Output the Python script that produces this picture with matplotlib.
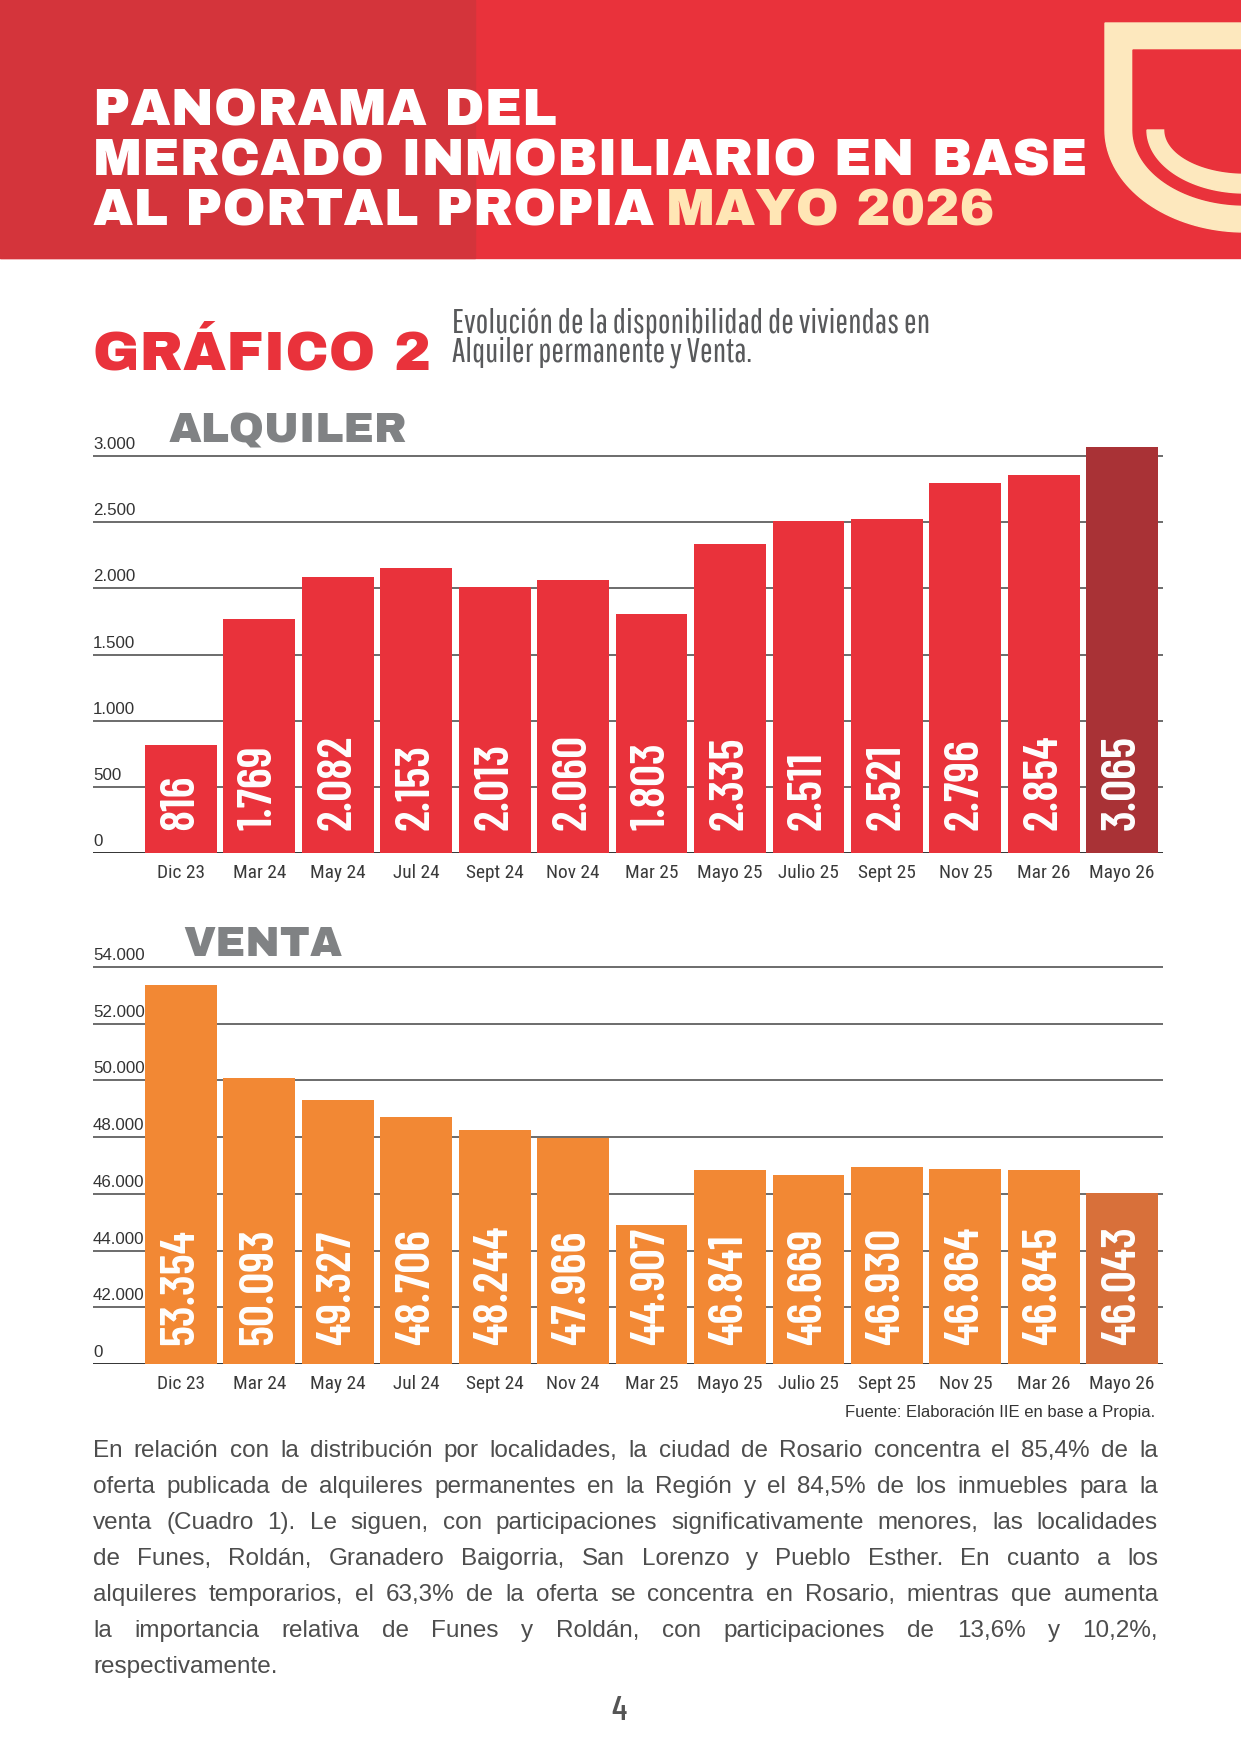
import matplotlib
matplotlib.use('Agg')
import matplotlib.pyplot as plt
from matplotlib.patches import Polygon, Rectangle
from matplotlib.transforms import offset_copy, blended_transform_factory
import numpy as np

# datos
fechas = ['Dic 23', 'Mar 24', 'May 24', 'Jul 24', 'Sept 24', 'Nov 24', 'Mar 25',
          'Mayo 25', 'Julio 25', 'Sept 25', 'Nov 25', 'Mar 26', 'Mayo 26']
alquiler = [816, 1769, 2082, 2153, 2013, 2060, 1803, 2335, 2511, 2521, 2796, 2854, 3065]
venta = [53354, 50093, 49327, 48706, 48244, 47966, 44907, 46841, 46669, 46930, 46864, 46845, 46043]

ticks_alq = [0, 500, 1000, 1500, 2000, 2500, 3000]
labels_alq = ['0', '500', '1.000', '1.500', '2.000', '2.500', '3.000']
ticks_ven = [40000, 42000, 44000, 46000, 48000, 50000, 52000, 54000]
labels_ven = ['0', '42.000', '44.000', '46.000', '48.000', '50.000', '52.000', '54.000']

parrafo = [
    "En relación con la distribución por localidades, la ciudad de Rosario concentra el 85,4% de la",
    "oferta publicada de alquileres permanentes en la Región y el 84,5% de los inmuebles para la",
    "venta (Cuadro 1). Le siguen, con participaciones significativamente menores, las localidades",
    "de Funes, Roldán, Granadero Baigorria, San Lorenzo y Pueblo Esther. En cuanto a los",
    "alquileres temporarios, el 63,3% de la oferta se concentra en Rosario, mientras que aumenta",
    "la importancia relativa de Funes y Roldán, con participaciones de 13,6% y 10,2%,",
    "respectivamente.",
]

ROJO = '#E9323B'
ROJO_OSC = '#D4343B'
CREMA = '#FDE8BE'
GRIS = '#808284'
NEGRA = ['Archivo Black', 'DejaVu Sans']
NUM = ['Barlow Condensed', 'Roboto Condensed', 'DejaVu Sans']
COND = ['Roboto Condensed', 'DejaVu Sans']
FINA = ['Pathway Gothic One', 'Barlow Condensed', 'Roboto Condensed', 'DejaVu Sans']
SANS = ['Liberation Sans', 'DejaVu Sans']

W, H = 1241, 1754
fig = plt.figure(figsize=(W / 100, H / 100), dpi=100)
bg = fig.add_axes([0, 0, 1, 1])
bg.set_xlim(0, W)
bg.set_ylim(H, 0)
bg.axis('off')
renderer = fig.canvas.get_renderer()


def ancho(t):
    return t.get_window_extent(renderer).width


def tam_para(s, w, size0=30, **kw):
    # tamaño de letra para que s ocupe w pixeles
    t = bg.text(0, -500, s, fontsize=size0, **kw)
    fs = size0 * w / ancho(t)
    t.remove()
    return fs


def texto_ajustado(x, y, s, w, **kw):
    return bg.text(x, y, s, fontsize=tam_para(s, w, **kw), **kw)


# cabecera
bg.add_patch(Rectangle((0, 0), W, 258, color=ROJO, zorder=0))
bg.add_patch(Rectangle((0, 0), 475, 258, color=ROJO_OSC, zorder=0))

tit = dict(color='white', fontweight='bold', family=NEGRA, va='baseline')
fs_tit = tam_para('MERCADO INMOBILIARIO EN BASE', 993, **tit)
bg.text(93, 125, 'PANORAMA DEL', fontsize=fs_tit, **tit)
bg.text(93, 175, 'MERCADO INMOBILIARIO EN BASE', fontsize=fs_tit, **tit)
t3 = bg.text(93, 225, 'AL PORTAL PROPIA ', fontsize=fs_tit, **tit)
tit['color'] = '#FFE6B5'
bg.text(93 + ancho(t3) - 6, 225, 'MAYO 2026', fontsize=fs_tit, **tit)


# logo
def forma(L, T, B, C=130, cx=1245, n=40):
    rx, ry = cx - L, B - C
    ang = np.linspace(np.pi, np.pi / 2, n)
    pts = [(1260, T), (L, T), (L, C)]
    pts += [(cx + rx * np.cos(a), C + ry * np.sin(a)) for a in ang]
    pts += [(1260, B)]
    return pts


bg.add_patch(Polygon(forma(1105, 23, 232), closed=True, color=CREMA, zorder=1))
bg.add_patch(Polygon(forma(1133, 50, 205), closed=True, color=ROJO, zorder=2))
bg.add_patch(Polygon(forma(1147, 130, 193), closed=True, color=CREMA, zorder=3))
bg.add_patch(Polygon(forma(1165, 129, 173), closed=True, color=ROJO, zorder=4))

# titulo del grafico
texto_ajustado(93, 370, 'GRÁFICO 2', 338, color=ROJO, fontweight='bold',
               family=NEGRA, va='baseline')
sub = dict(color='#58595B', family=FINA, fontweight='light', va='baseline')
fs_sub = tam_para('Evolución de la disponibilidad de viviendas en', 480, **sub)
bg.text(452, 333, 'Evolución de la disponibilidad de viviendas en', fontsize=fs_sub, **sub)
bg.text(452, 362, 'Alquiler permanente y Venta.', fontsize=fs_sub, **sub)

texto_ajustado(169, 443, 'ALQUILER', 239, color=GRIS, fontweight='bold',
               family=NEGRA, va='baseline')
texto_ajustado(183, 956, 'VENTA', 159, color=GRIS, fontweight='bold',
               family=NEGRA, va='baseline')

fs_val = tam_para('2.082', 95, family=NUM, fontweight='semibold')
fs_cat = tam_para('Dic 23', 48, family=COND)
fs_tick = tam_para('3.000', 42, family=SANS)


def grafico(top_px, base_px, ymin, ylim_top, valores, colores, ticks, labels, sube):
    ax = fig.add_axes([93 / W, 1 - base_px / H, (1163 - 93) / W, (base_px - top_px) / H])
    ax.set_facecolor('none')
    x = np.arange(len(valores))
    ax.bar(x, valores, width=0.915, color=colores, zorder=2)
    ax.set_xlim(-1.12, 12.52)
    ax.set_ylim(ymin, ylim_top)
    for sp in ax.spines.values():
        sp.set_visible(False)
    ax.set_xticks([])
    ax.set_yticks([])
    trans_y = blended_transform_factory(ax.transAxes, ax.transData)
    for tk, lb in zip(ticks, labels):
        c = '#333333' if tk == ymin else '#6B6B6B'
        ax.axhline(tk, color=c, lw=1.4, zorder=0)
        ax.text(0, tk, lb, transform=offset_copy(trans_y, fig, y=7, units='dots'),
                fontsize=fs_tick, color='#333333', family=SANS, va='baseline', ha='left')
    tr_val = offset_copy(ax.transData, fig, y=sube, units='dots')
    tr_lab = offset_copy(ax.transData, fig, y=-20, units='dots')
    for i, v in enumerate(valores):
        ax.text(i, ymin, f'{v:,}'.replace(',', '.'), transform=tr_val, rotation=90,
                ha='center', va='bottom', color='white', fontsize=fs_val,
                fontweight='semibold', family=NUM, zorder=3)
        ax.text(i, ymin, fechas[i], transform=tr_lab, ha='center', va='center',
                fontsize=fs_cat, color='#3A3A3A', family=COND)
    return ax


col_alq = [ROJO] * 12 + ['#A93236']
col_ven = ['#F28834'] * 12 + ['#D8703A']
grafico(440, 853, 0, 3000 * 413 / 397, alquiler, col_alq, ticks_alq, labels_alq, 23)
grafico(955, 1364, 40000, 40000 + 14000 * 409 / 397, venta, col_ven, ticks_ven, labels_ven, 19)

texto_ajustado(1155, 1417, 'Fuente: Elaboración IIE en base a Propia.', 309,
               color='#333333', family=SANS, ha='right', va='baseline')

# parrafo justificado
x0, x1 = 93, 1158
fs_par = 17.5
for k, linea in enumerate(parrafo):
    y = 1457 + 36 * k
    palabras = linea.split(' ')
    objs = [bg.text(0, y, p, fontsize=fs_par, color='#4D4D4D', family=SANS, va='baseline')
            for p in palabras]
    anchos = [ancho(o) for o in objs]
    if k < len(parrafo) - 1:
        hueco = (x1 - x0 - sum(anchos)) / (len(palabras) - 1)
    else:
        hueco = fs_par * 0.4
    xx = x0
    for o, a in zip(objs, anchos):
        o.set_x(xx)
        xx += a + hueco

bg.text(619, 1712, '4', fontsize=25, color='#555555', family=NUM, fontweight='medium',
        ha='center', va='center')

fig.savefig('out.png', dpi=100)
